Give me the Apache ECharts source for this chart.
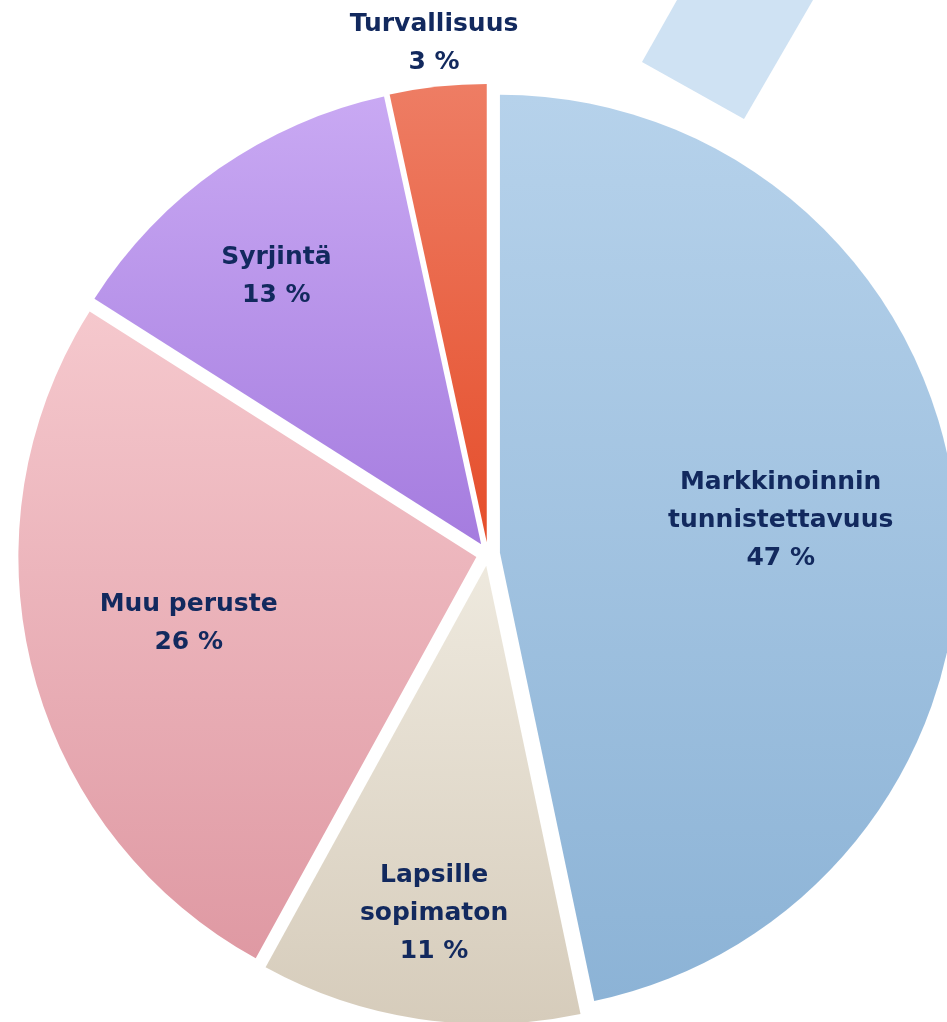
<!DOCTYPE html>
<html>
<head>
<meta charset="utf-8">
<title>Pie</title>
<script src="https://cdn.jsdelivr.net/npm/echarts@6/dist/echarts.min.js"></script>
<style>
  html, body { margin: 0; padding: 0; background: #ffffff; }
  #chart { width: 947px; height: 1022px; }
</style>
</head>
<body>
<div id="chart"></div>
<script>
// data (shares in %; labels show them rounded)
var categories = ['Markkinoinnin\ntunnistettavuus', 'Lapsille\nsopimaton', 'Muu peruste', 'Syrjintä', 'Turvallisuus'];
var values = [46.7, 11.3, 26.0, 12.6, 3.4];

// top / bottom colours of each slice
var topColors = ['#b6d2eb', '#eee9de', '#f5c8cd', '#c9a9f3', '#ee7d64'];
var bottomColors = ['#8cb3d6', '#d6ccbb', '#df99a3', '#a57cdf', '#e54e2b'];
// label shift from the default inside spot
var labelShift = [[50, -8], [-18, 118], [-63, 9], [-72, -77], [-28, -268]];

var myChart = echarts.init(document.getElementById('chart'));

var pieData = categories.map(function (name, i) {
  return {
    name: name,
    value: values[i],
    selected: true,
    itemStyle: {
      color: new echarts.graphic.LinearGradient(0, 0, 0, 1, [
        { offset: 0, color: topColors[i] },
        { offset: 1, color: bottomColors[i] }
      ])
    }
  };
});

var option = {
  backgroundColor: '#ffffff',
  animation: false,
  graphic: [
    {
      type: 'polygon',
      shape: { points: [[677, 0], [813, 0], [744, 119], [642, 62]] },
      style: { fill: '#cfe2f3' },
      silent: true
    }
  ],
  series: [
    {
      type: 'pie',
      center: [488, 554],
      radius: 458,
      startAngle: 90,
      clockwise: true,
      selectedMode: 'multiple',
      selectedOffset: 12,
      avoidLabelOverlap: false,
      emphasis: { disabled: true },
      label: {
        show: true,
        position: 'inside',
        formatter: function (p) {
          return p.name + '\n' + Math.round(p.value) + ' %';
        },
        fontFamily: 'DejaVu Sans',
        fontWeight: 'bold',
        fontSize: 25,
        lineHeight: 38,
        color: '#12295e',
        align: 'center'
      },
      labelLine: { show: false },
      labelLayout: function (params) {
        var s = labelShift[params.dataIndex];
        return { dx: s[0], dy: s[1] };
      },
      data: pieData
    }
  ]
};

myChart.setOption(option);
window.onresize = function () {
  myChart.resize();
};
</script>
</body>
</html>
